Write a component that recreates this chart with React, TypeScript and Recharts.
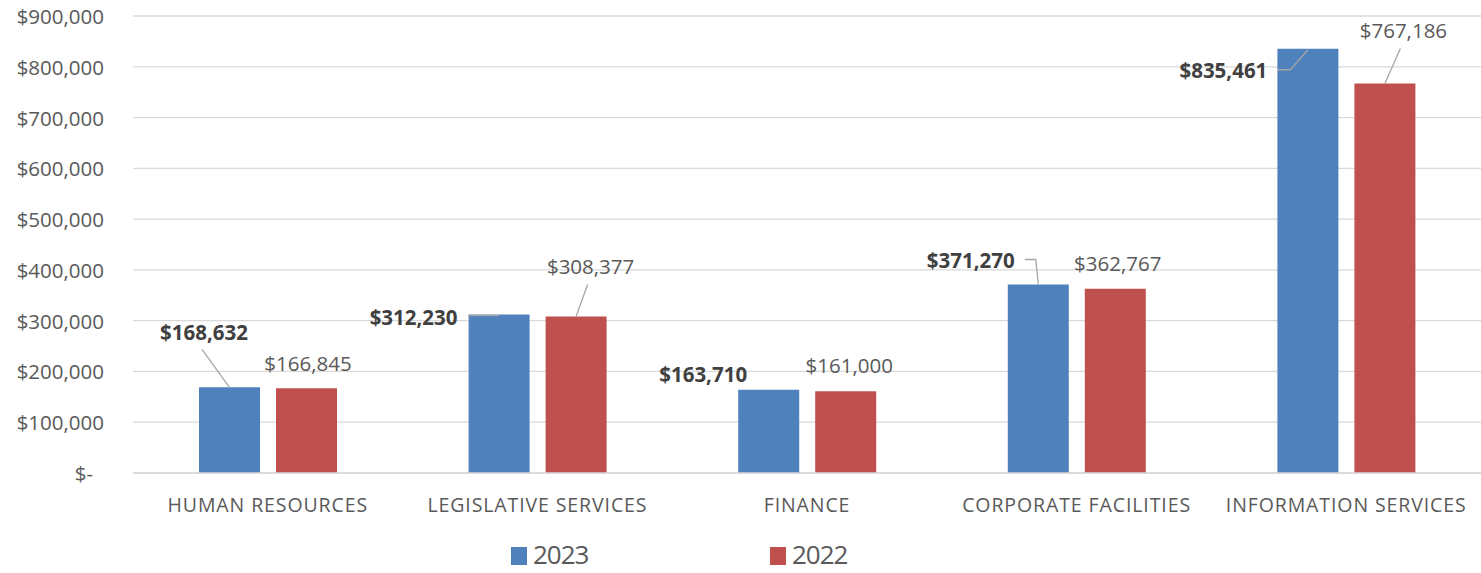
import React from 'react';
import { BarChart, Bar, XAxis, YAxis, CartesianGrid, Legend, LabelList } from 'recharts';

document.body.style.margin = '0';

const categories = [
  'HUMAN RESOURCES',
  'LEGISLATIVE SERVICES',
  'FINANCE',
  'CORPORATE FACILITIES',
  'INFORMATION SERVICES',
];
const values2023 = [168632, 312230, 163710, 371270, 835461];
const values2022 = [166845, 308377, 161000, 362767, 767186];
const yTicks = [0, 100000, 200000, 300000, 400000, 500000, 600000, 700000, 800000, 900000];

const data = categories.map((name, i) => ({
  name,
  y2023: values2023[i],
  y2022: values2022[i],
}));

// where Excel's hand-placed labels sit relative to the bar top centre
type LabelPlace = { dx: number; dy: number; leader?: [number, number][] };
const place2023: LabelPlace[] = [
  { dx: -25.5, dy: -55, leader: [[0, 0], [-27.5, -38]] },
  { dx: -85.5, dy: 3, leader: [[0, 1], [-31, 1]] },
  { dx: -65.5, dy: -16 },
  { dx: -67.5, dy: -24, leader: [[0, 0], [-2.5, -25], [-13.5, -25]] },
  { dx: -84.5, dy: 21, leader: [[0, 1], [-17.5, 21], [-30.5, 21]] },
];
const place2022: LabelPlace[] = [
  { dx: 1.5, dy: -25 },
  { dx: 14.5, dy: -50, leader: [[0, 0], [11.5, -32]] },
  { dx: 3.5, dy: -26 },
  { dx: 2.5, dy: -26 },
  { dx: 18.5, dy: -53, leader: [[0, 0], [15.5, -35]] },
];

const FONT = '"Open Sans", sans-serif';
const money = (v: number) => (v === 0 ? '$-' : '$' + v.toLocaleString('en-US'));

const makeLabel = (places: LabelPlace[], bold: boolean) => (props: any) => {
  const { x, y, width, index, value } = props;
  const p = places[index];
  const cx = Number(x) + Number(width) / 2;
  const top = Number(y);
  return (
    <g>
      {p.leader && (
        <polyline
          points={p.leader.map(([a, b]) => `${cx + a},${top + b}`).join(' ')}
          fill="none"
          stroke="#A6A6A6"
          strokeWidth={1.3}
        />
      )}
      <text
        x={cx + p.dx}
        y={top + p.dy}
        textAnchor="middle"
        dominantBaseline="central"
        fontFamily={FONT}
        fontSize={20.5}
        fontWeight={bold ? 700 : 400}
        fill={bold ? '#404040' : '#595959'}
      >
        {money(value)}
      </text>
    </g>
  );
};

const YTick = (props: any) => {
  const { y, payload } = props;
  const zero = payload.value === 0;
  return (
    <text
      x={zero ? 93 : 104}
      y={y}
      textAnchor="end"
      dominantBaseline="central"
      fontFamily={FONT}
      fontSize={20.5}
      fill="#595959"
    >
      {money(payload.value)}
    </text>
  );
};

const XTick = (props: any) => {
  const { x, payload } = props;
  return (
    <text
      x={x}
      y={504}
      textAnchor="middle"
      dominantBaseline="central"
      fontFamily={FONT}
      fontSize={19.5}
      letterSpacing={0.9}
      fill="#595959"
    >
      {payload.value}
    </text>
  );
};

const LegendBox = () => (
  <div style={{ height: 44, position: 'relative', fontFamily: FONT }}>
    {[
      { label: '2023', color: '#4F81BD', left: 511 },
      { label: '2022', color: '#C0504D', left: 770 },
    ].map((it) => (
      <div
        key={it.label}
        style={{ position: 'absolute', left: it.left, top: 7, display: 'flex', alignItems: 'center' }}
      >
        <span
          style={{ width: 16, height: 18, background: it.color, display: 'inline-block', marginRight: 6, marginTop: 4 }}
        />
        <span style={{ fontSize: 26, color: '#595959', lineHeight: 'normal', letterSpacing: -1 }}>{it.label}</span>
      </div>
    ))}
  </div>
);

export default function App() {
  return (
    <div style={{ width: 1481, height: 573, background: '#fff' }}>
      <BarChart
        width={1481}
        height={573}
        data={data}
        margin={{ top: 16, right: 0, bottom: 0, left: 0 }}
        barSize={61}
        barGap={16}
      >
        <CartesianGrid vertical={false} stroke="#D9D9D9" strokeWidth={1.3} />
        <XAxis
          dataKey="name"
          height={56}
          axisLine={{ stroke: '#D9D9D9', strokeWidth: 1.3 }}
          tickLine={false}
          tick={<XTick />}
          interval={0}
        />
        <YAxis
          width={133}
          domain={[0, 900000]}
          ticks={yTicks}
          axisLine={false}
          tickLine={false}
          tick={<YTick />}
        />
        <Legend verticalAlign="bottom" content={<LegendBox />} />
        <Bar dataKey="y2023" name="2023" fill="#4F81BD" isAnimationActive={false}>
          <LabelList dataKey="y2023" content={makeLabel(place2023, true)} />
        </Bar>
        <Bar dataKey="y2022" name="2022" fill="#C0504D" isAnimationActive={false}>
          <LabelList dataKey="y2022" content={makeLabel(place2022, false)} />
        </Bar>
      </BarChart>
    </div>
  );
}
